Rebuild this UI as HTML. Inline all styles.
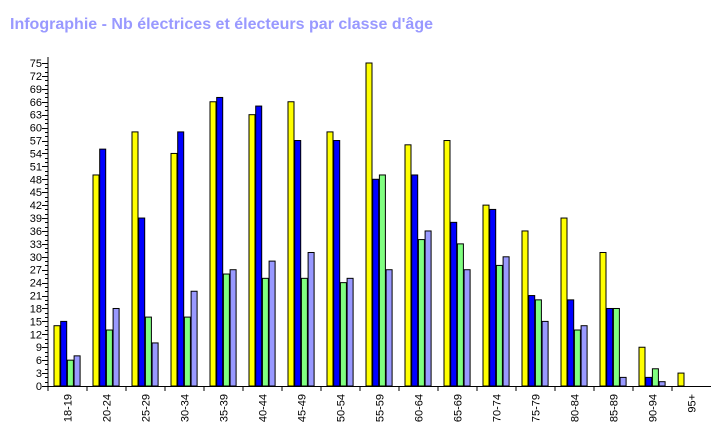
<!DOCTYPE html>
<html><head><meta charset="utf-8"><style>
body{margin:0;background:#fff;width:728px;height:429px;overflow:hidden}
svg{display:block;font-family:"Liberation Sans",sans-serif}
</style></head><body>
<svg id="chart" width="728" height="429">
<text x="10" y="29" font-size="16" font-weight="bold" fill="#9999ff" textLength="423">Infographie - Nb électrices et électeurs par classe d'âge</text>
</svg>
<script>
const categories=["18-19","20-24","25-29","30-34","35-39","40-44","45-49","50-54","55-59","60-64","65-69","70-74","75-79","80-84","85-89","90-94","95+"];
const seriesA=[14,49,59,54,66,63,66,59,75,56,57,42,36,39,31,9,3];
const seriesB=[15,55,39,59,67,65,57,57,48,49,38,41,21,20,18,2,0];
const seriesC=[6,13,16,16,26,25,25,24,49,34,33,28,20,13,18,4,0];
const seriesD=[7,18,10,22,27,29,31,25,27,36,27,30,15,14,2,1,0];
const yTicks=[0,3,6,9,12,15,18,21,24,27,30,33,36,39,42,45,48,51,54,57,60,63,66,69,72,75];
const colors=["#ffff00","#0000ff","#80ff80","#9999ff"];
const names=["series-yellow","series-blue","series-green","series-purple"];
const NS="http://www.w3.org/2000/svg";
const svg=document.getElementById('chart');
const x0=48,x1=711,y0=386,yTop=57;
const y=v=>y0-v*(386-63)/75;
const step=(x1-x0)/categories.length;
const xc=i=>x0+i*step;
function mk(t,a){const e=document.createElementNS(NS,t);for(const k in a)e.setAttribute(k,a[k]);svg.appendChild(e);return e;}
const all=[seriesA,seriesB,seriesC,seriesD];
categories.forEach((c,i)=>{
  all.forEach((s,j)=>{
    if(s[i]<=0)return;
    const r=mk('rect',{x:xc(i)+6+j*6.7,y:y(s[i]),width:6,height:y0-y(s[i]),fill:colors[j],stroke:'#000','stroke-width':1});
    
    
  });
  const t=mk('line',{x1:xc(i),x2:xc(i),y1:y0,y2:y0+5,stroke:'#000'});
  
  
  const lx=xc(i)+step/2+4;
  const l=mk('text',{x:lx,y:y0+8,'font-size':11,'text-anchor':'end',transform:`rotate(-90 ${lx} ${y0+8})`});
  l.textContent=c;
  
  
});
const ax=mk('line',{x1:x0,x2:x0,y1:yTop,y2:y0,stroke:'#000'});


const bx=mk('line',{x1:x0,x2:x1,y1:y0+0.5,y2:y0+0.5,stroke:'#000'});


for(let v=0;v<=75;v++){
  const tk=mk('line',{x1:x0-(v%3==0?6:3),x2:x0,y1:Math.round(y(v))+0.5,y2:Math.round(y(v))+0.5,stroke:'#000'});
  
  
}
yTicks.forEach(v=>{
  const t=mk('text',{x:x0-6,y:y(v)+4,'font-size':11,'text-anchor':'end'});
  t.textContent=v;
  
  
});
</script>
</body></html>
